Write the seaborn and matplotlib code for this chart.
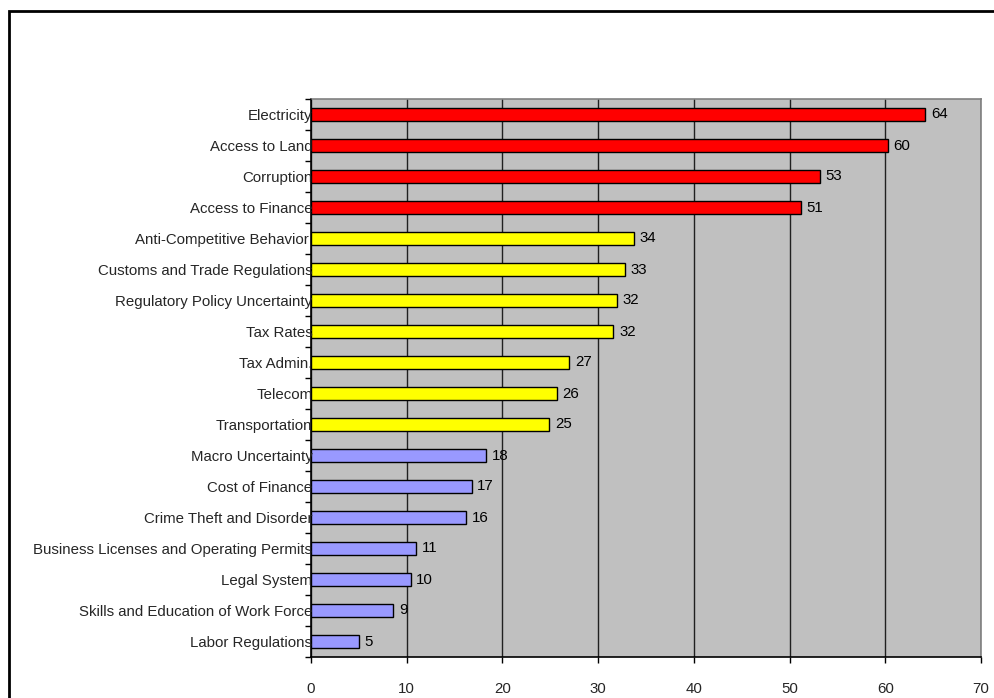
import matplotlib
matplotlib.use("Agg")
import matplotlib.pyplot as plt
import matplotlib.patches as mpatches
import seaborn as sns
import pandas as pd
import numpy as np

categories = ["Electricity", "Access to Land", "Corruption", "Access to Finance",
              "Anti-Competitive Behavior ", "Customs and Trade Regulations",
              "Regulatory Policy Uncertainty", "Tax Rates", "Tax Admin.", "Telecom",
              "Transportation", "Macro Uncertainty", "Cost of Finance",
              "Crime Theft and Disorder", "Business Licenses and Operating Permits",
              "Legal System", "Skills and Education of Work Force", "Labor Regulations"]
values = [64.2, 60.3, 53.2, 51.2, 33.7, 32.8, 32.0, 31.6, 27.0, 25.7, 24.9,
          18.3, 16.8, 16.2, 11.0, 10.4, 8.6, 5.0]
groups = ["high"] * 4 + ["mid"] * 7 + ["low"] * 7
group_colors = {"high": "#FF0000", "mid": "#FFFF00", "low": "#9999FF"}
xticks = [0, 10, 20, 30, 40, 50, 60, 70]

df = pd.DataFrame({"category": categories, "value": values, "group": groups})

sns.set_style("white")
plt.rcParams["font.family"] = ["Liberation Sans", "DejaVu Sans"]
FS = 10.8

fig = plt.figure(figsize=(9.94, 6.98), dpi=100)
ax = fig.add_axes([311 / 994, 1 - 657 / 698, 670 / 994, 558 / 698])
ax.set_facecolor("#C0C0C0")

sns.barplot(data=df, x="value", y="category", hue="group", palette=group_colors,
            dodge=False, width=0.4, edgecolor="black", linewidth=1.0, saturation=1,
            legend=False, ax=ax, order=categories, orient="h")

for c in ax.containers:
    labels = [f"{v:.0f}" for v in c.datavalues]
    ax.bar_label(c, labels=labels, padding=4, fontsize=FS, color="black")

ax.set_xlim(0, 70)
ax.set_ylim(len(categories) - 0.5, -0.5)
ax.set_xticks(xticks)
ax.set_xticklabels([str(t) for t in xticks], fontsize=FS)
ax.xaxis.grid(True, color="#202020", linewidth=1.0)
ax.yaxis.grid(False)
ax.set_axisbelow(True)
ax.yaxis.set_zorder(5)
ax.set_xlabel("")
ax.set_ylabel("")

ax.set_yticks(range(len(categories)))
ax.set_yticklabels(categories, fontsize=FS)
ax.set_yticks(np.arange(-0.5, len(categories), 1.0), minor=True)
ax.tick_params(axis="y", which="major", length=0, pad=-1)
ax.tick_params(axis="y", which="minor", length=4, width=1, color="black", direction="out", left=True)
ax.tick_params(axis="x", which="major", length=4, width=1, color="black", direction="out",
               bottom=True, pad=14)

for s in ["left", "bottom"]:
    ax.spines[s].set_color("black")
    ax.spines[s].set_linewidth(1.2)
for s in ["top", "right"]:
    ax.spines[s].set_color("#808080")
    ax.spines[s].set_linewidth(1.2)

frame = mpatches.Rectangle((8.5 / 994, -0.2), 1.5, 1 - 11 / 698 + 0.2,
                           transform=fig.transFigure, fill=False,
                           edgecolor="black", linewidth=2, clip_on=False)
fig.patches.append(frame)

fig.savefig("out.png", dpi=100)
